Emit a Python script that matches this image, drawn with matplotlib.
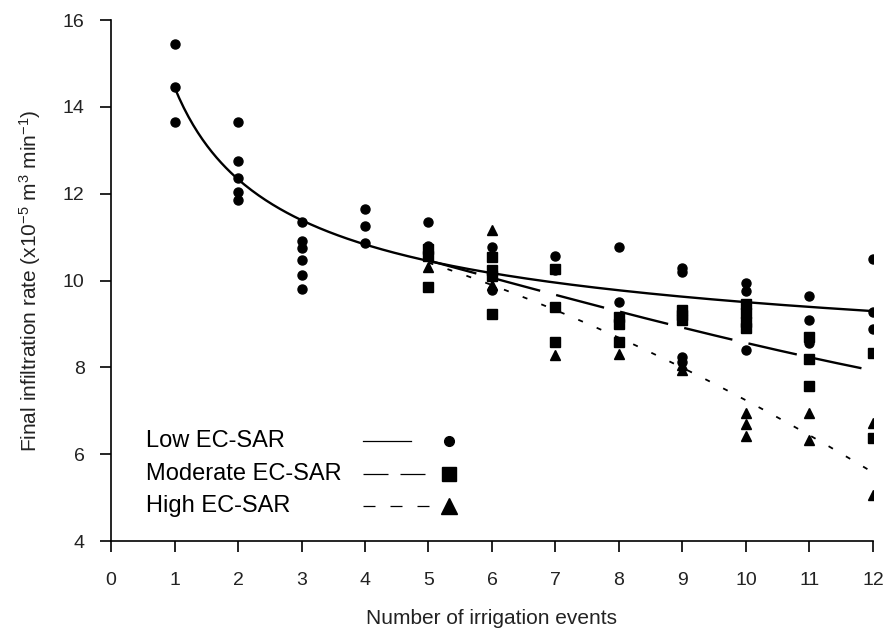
import numpy as np
import matplotlib
matplotlib.use("Agg")
import matplotlib.pyplot as plt

plt.rcParams['font.family'] = ['Liberation Sans', 'DejaVu Sans']
plt.rcParams['mathtext.fontset'] = 'custom'
plt.rcParams['mathtext.rm'] = 'Liberation Sans'
plt.rcParams['mathtext.it'] = 'Liberation Sans'

# measured points (number of irrigation events, final infiltration rate)
low_x = [1, 1, 1, 2, 2, 2, 2, 2, 3, 3, 3, 3, 3, 3, 4, 4, 4, 5, 5, 6, 6, 6,
         7, 7, 8, 8, 9, 9, 9, 9, 10, 10, 10, 11, 11, 11, 12, 12, 12]
low_y = [15.45, 14.45, 13.65, 13.65, 12.75, 12.35, 12.05, 11.85,
         11.35, 10.92, 10.75, 10.47, 10.12, 9.8, 11.65, 11.25, 10.87,
         11.35, 10.8, 10.78, 10.2, 9.78, 10.57, 10.25, 10.77, 9.5,
         10.28, 10.2, 8.23, 8.12, 9.94, 9.76, 8.4, 9.65, 9.1, 8.55,
         10.5, 9.28, 8.88]

mod_x = [5, 5, 5, 6, 6, 6, 6, 7, 7, 7, 8, 8, 8, 9, 9, 9, 10, 10, 10, 10,
         11, 11, 11, 12, 12]
mod_y = [10.72, 10.57, 9.85, 10.55, 10.25, 10.1, 9.22, 10.26, 9.38, 8.58,
         9.15, 9.0, 8.58, 9.33, 9.2, 9.1, 9.45, 9.25, 9.05, 8.9,
         8.7, 8.2, 7.57, 8.33, 6.38]

high_x = [5, 6, 6, 7, 8, 9, 9, 10, 10, 10, 11, 11, 12, 12]
high_y = [10.3, 11.17, 9.9, 8.28, 8.3, 8.05, 7.95, 6.95, 6.7, 6.43,
          6.95, 6.33, 6.72, 5.06]

# trend line readings
trend_x_low = [1, 2, 3, 4, 5, 6, 7, 8, 9, 10, 11, 12]
trend_low = [14.45, 12.35, 11.35, 10.86, 10.45, 10.17, 9.95, 9.78, 9.63,
             9.48, 9.4, 9.3]
trend_x_sub = [4, 5, 6, 7, 8, 9, 10, 11, 12]
trend_mod = [10.86, 10.45, 10.1, 9.65, 9.27, 8.92, 8.57, 8.24, 7.92]
trend_high = [10.86, 10.42, 9.9, 9.32, 8.67, 7.98, 7.25, 6.45, 5.57]

fig = plt.figure(figsize=(8.96, 6.33), dpi=100)
ax = fig.add_axes([0.1239, 0.1453, 0.8504, 0.8231])

c_low = np.polyfit(np.log(trend_x_low), trend_low, 3)
xs = np.linspace(1, 12, 300)
ax.plot(xs, np.polyval(c_low, np.log(xs)), color='black', lw=1.7)

c_mod = np.polyfit(trend_x_sub, trend_mod, 3)
c_high = np.polyfit(trend_x_sub, trend_high, 3)
xs2 = np.linspace(5, 12, 200)
ax.plot(xs2, np.polyval(c_mod, xs2), color='black', lw=1.7, dashes=(21, 7))
ax.plot(xs2, np.polyval(c_high, xs2), color='black', lw=1.3, dashes=(2.8, 8.3))

ax.plot(low_x, low_y, 'o', color='black', ms=6.5, ls='none')
ax.plot(mod_x, mod_y, 's', color='black', ms=7, ls='none')
ax.plot(high_x, high_y, '^', color='black', ms=7.5, ls='none')

ax.set_xlim(0, 12)
ax.set_ylim(4, 16)
ax.set_xticks(range(0, 13))
ax.set_yticks(range(4, 17, 2))
for s in ['top', 'right']:
    ax.spines[s].set_visible(False)
for s in ['left', 'bottom']:
    ax.spines[s].set_linewidth(1.2)
ax.tick_params(direction='out', length=8, width=1.2, labelsize=14, pad=11)
ax.tick_params(axis='x', pad=14)
for lab in ax.get_xticklabels() + ax.get_yticklabels():
    lab.set_color('#222222')

ax.set_xlabel('Number of irrigation events', fontsize=15, labelpad=15, color='#222222')
ax.set_ylabel(r'Final infiltration rate (x10$^{-5}$ m$^{3}$ min$^{-1}$)',
              fontsize=15, labelpad=14, color='#222222')

# hand-made legend
names = ['Low EC-SAR', 'Moderate EC-SAR', 'High EC-SAR']
ys = [0.192, 0.129, 0.068]
ends = [0.394, 0.414, 0.419]
markers = ['o', 's', '^']
msizes = [7, 10, 12]
styles = [dict(ls='-'), dict(dashes=(20, 9.6)), dict(dashes=(9.6, 12))]
for name, yy, x1, m, msz, st in zip(names, ys, ends, markers, msizes, styles):
    ax.text(0.046, yy, name, transform=ax.transAxes, fontsize=17,
            va='center', ha='left', color='black')
    ax.plot([0.331, x1], [yy, yy], transform=ax.transAxes, color='black',
            lw=0.9, clip_on=False, **st)
    ax.plot([0.443], [yy], marker=m, ms=msz, color='black',
            transform=ax.transAxes, clip_on=False, ls='none')

fig.savefig('out.png', dpi=100)
